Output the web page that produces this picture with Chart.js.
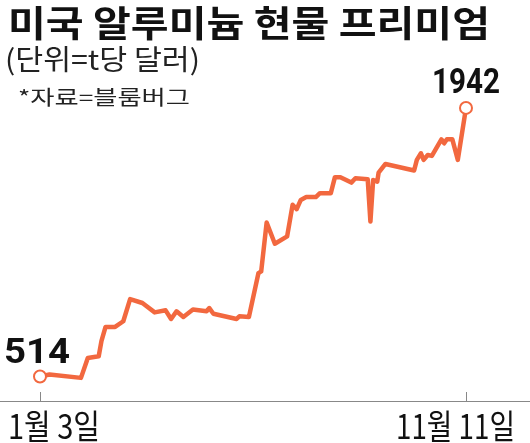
<!DOCTYPE html>
<html>
<head>
<meta charset="utf-8">
<script src="https://cdn.jsdelivr.net/npm/chart.js@4"></script>
<style>
  body { margin: 0; background: #fff; }
  #wrap { position: relative; width: 530px; height: 443px; }
</style>
</head>
<body>
<div id="wrap"><canvas id="c" width="530" height="443"></canvas></div>
<script>
// days since Jan 3
const days = [0, 7, 30, 35, 43, 45, 48, 55, 61, 66, 75, 84, 92, 96, 100, 105, 112, 122, 124, 127, 144, 146, 153, 160, 162, 166, 172, 181, 185, 188, 191, 195, 202, 205, 213, 216, 220, 228, 231, 240, 242, 244, 247, 248, 253, 274, 276, 279, 281, 284, 287, 294, 296, 298, 302, 306, 312];
const values = [514, 525, 507, 613, 622, 702, 778, 778, 808, 926, 905, 855, 866, 820, 861, 831, 870, 861, 878, 848, 820, 834, 831, 1064, 1073, 1333, 1220, 1259, 1427, 1404, 1453, 1468, 1468, 1489, 1489, 1574, 1574, 1545, 1568, 1563, 1338, 1559, 1550, 1598, 1644, 1609, 1666, 1701, 1666, 1692, 1687, 1775, 1754, 1775, 1775, 1666, 1942];
const tickDays = [0, 312];
const tickLabels = ['1월 3일', '11월 11일'];
const title = '미국 알루미늄 현물 프리미엄';
const unit = '(단위=t당 달러)';
const source = '*자료=블룸버그';

const orange = '#f2683f';
const last = values.length - 1;

// draw text stretched/squeezed to span x0..x1
function fitText(ctx, text, x0, x1, baseline) {
  const w = ctx.measureText(text).width;
  ctx.save();
  ctx.translate(x0, baseline);
  ctx.scale((x1 - x0) / w, 1);
  ctx.textAlign = 'left';
  ctx.fillText(text, 0, 0);
  ctx.restore();
}

const decor = {
  id: 'decor',
  afterDraw(chart) {
    const ctx = chart.ctx;
    const x = chart.scales.x;
    ctx.save();
    ctx.fillStyle = '#111';
    ctx.font = 'bold 36px "Noto Sans CJK KR"';
    fitText(ctx, title, 8, 490, 37);
    ctx.fillStyle = '#222';
    ctx.font = '28px "Noto Sans CJK KR"';
    fitText(ctx, unit, 5, 200, 70);
    ctx.font = '20px "Noto Sans CJK KR"';
    fitText(ctx, source, 18, 190, 105);
    // axis
    ctx.strokeStyle = '#888';
    ctx.lineWidth = 1;
    ctx.beginPath();
    ctx.moveTo(0, 401.5); ctx.lineTo(530, 401.5);
    tickDays.forEach(d => {
      const px = Math.round(x.getPixelForValue(d)) + 0.5;
      ctx.moveTo(px, 392); ctx.lineTo(px, 401.5);
    });
    ctx.stroke();
    ctx.fillStyle = '#111';
    ctx.font = '34px "Noto Sans CJK KR"';
    fitText(ctx, tickLabels[0], 8, 100, 439);
    fitText(ctx, tickLabels[1], 396, 515, 439);
    // value labels
    ctx.font = 'bold 35px "Roboto"';
    fitText(ctx, String(values[0]), 4, 70, 363);
    fitText(ctx, String(values[last]), 432, 500, 93);
    ctx.restore();
  }
};

new Chart(document.getElementById('c'), {
  type: 'line',
  data: {
    datasets: [{
      data: days.map((d, i) => ({ x: d, y: values[i] })),
      borderColor: orange,
      borderWidth: 4.5,
      borderJoinStyle: 'round',
      tension: 0,
      clip: false,
      pointRadius: values.map((v, i) => (i === 0 || i === last) ? 6 : 0),
      pointBackgroundColor: '#fff',
      pointBorderColor: orange,
      pointBorderWidth: 2
    }]
  },
  options: {
    responsive: false,
    animation: false,
    layout: { padding: { left: 40, right: 64, top: 97, bottom: 45 } },
    plugins: { legend: { display: false }, tooltip: { enabled: false } },
    scales: {
      x: { type: 'linear', min: 0, max: 312, display: false },
      y: { min: 400, max: 2000, display: false }
    }
  },
  plugins: [decor]
});
</script>
</body>
</html>
